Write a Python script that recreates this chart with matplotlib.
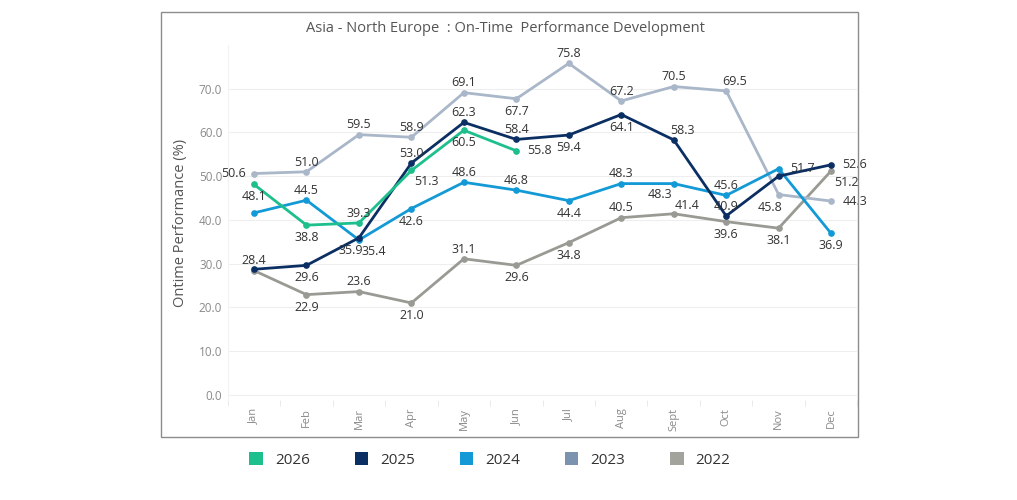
import matplotlib
matplotlib.use("Agg")
import matplotlib.pyplot as plt
from matplotlib.patches import Rectangle, Patch

# ── Data ────────────────────────────────────────────────────
MONTHS = ["Jan", "Feb", "Mar", "Apr", "May", "Jun",
          "Jul", "Aug", "Sept", "Oct", "Nov", "Dec"]
YEARS = ["2026", "2025", "2024", "2023", "2022"]

OTP_2026 = [48.1, 38.8, 39.3, 51.3, 60.5, 55.8]
OTP_2025 = [28.7, 29.6, 35.9, 53.0, 62.3, 58.4, 59.4, 64.1, 58.3, 40.9, 50.0, 52.6]
OTP_2024 = [41.6, 44.5, 35.4, 42.6, 48.6, 46.8, 44.4, 48.3, 48.3, 45.6, 51.7, 36.9]
OTP_2023 = [50.6, 51.0, 59.5, 58.9, 69.1, 67.7, 75.8, 67.2, 70.5, 69.5, 45.8, 44.3]
OTP_2022 = [28.4, 22.9, 23.6, 21.0, 31.1, 29.6, 34.8, 40.5, 41.4, 39.6, 38.1, 51.2]

# ── Style ───────────────────────────────────────────────────
plt.rcParams["font.family"] = ["Open Sans", "DejaVu Sans"]
COLORS = {"2026": "#1dbf8c", "2025": "#0b2f63", "2024": "#139ad6",
          "2023": "#a9b7c9", "2022": "#9a9a94"}
LEGEND_COLORS = {"2026": "#1dbf8c", "2025": "#0b2f63", "2024": "#139ad6",
                 "2023": "#7c93b0", "2022": "#a3a39e"}

# label placement: a=above, b=below, l=left, r=right, None=hidden
PLACE = {
    "2023": ["l", "a", "a", "a", "a", "b", "a", "a", "a", "ar", "bl", "r"],
    "2025": [None, "b", "bl", "a", "a", "a", "b", "b", "ar", "a", None, "r"],
    "2024": [None, "a", "br", "b", "a", "a", "b", "a", "bll", "a", "r", "b"],
    "2026": ["b", "b", "a", "br", "b", "r"],
    "2022": ["a", "b", "a", "b", "a", "b", "b", "a", "arr", "b", "b", "br"],
}
OFFSETS = {"a": (0, 7), "b": (0, -9), "l": (-15, 0), "r": (17, 0),
           "ar": (6, 7), "bl": (-6, -9), "br": (11, -8),
           "arr": (10, 6), "bll": (-10, -8)}

series = {"2026": OTP_2026, "2025": OTP_2025, "2024": OTP_2024,
          "2023": OTP_2023, "2022": OTP_2022}

fig = plt.figure(figsize=(10.17, 5.0), dpi=100)
ax = fig.add_axes([0.224, 0.20, 0.619, 0.71])

for year in ["2022", "2023", "2024", "2025", "2026"]:
    vals = series[year]
    x = list(range(len(vals)))
    ax.plot(x, vals, "o-", color=COLORS[year], linewidth=2.0, markersize=3.8,
            zorder=3)
    for xi, v, p in zip(x, vals, PLACE[year]):
        if p is None:
            continue
        dx, dy = OFFSETS[p]
        ax.annotate(f"{v:.1f}", (xi, v), xytext=(dx, dy), textcoords="offset points",
                    ha="center", va="center", fontsize=9, color="#333333", zorder=5)

ax.set_xlim(-0.48, 11.5)
ax.set_ylim(-1.2, 80)
ax.set_yticks([0, 10, 20, 30, 40, 50, 60, 70])
ax.set_yticklabels([f"{t:.1f}" for t in [0, 10, 20, 30, 40, 50, 60, 70]],
                   fontsize=8.5, color="#8a8a8a")
ax.set_xticks(range(12))
ax.set_xticklabels(MONTHS, rotation=90, fontsize=8, color="#8a8a8a")
ax.set_xticks([i + 0.5 for i in range(-1, 12)], minor=True)
ax.tick_params(axis="x", which="major", length=0, pad=6)
ax.tick_params(axis="x", which="minor", length=4, color="#e6e6e6")
ax.tick_params(axis="y", length=0, pad=4)
ax.grid(axis="y", color="#eeeeee", linewidth=0.8)
ax.set_axisbelow(True)
for s in ["top", "right", "bottom"]:
    ax.spines[s].set_visible(False)
ax.spines["left"].set_color("#f2f2f2")
ax.set_ylabel("Ontime Performance (%)", fontsize=10.5, color="#555555", labelpad=8)

# outer frame and title
fig.add_artist(Rectangle((161 / 1017, 1 - 437 / 500), 697 / 1017, 425 / 500,
                         transform=fig.transFigure, fill=False,
                         edgecolor="#8c8c8c", linewidth=1.0))
fig.text(505 / 1017, 1 - 28 / 500,
         "Asia - North Europe  : On-Time  Performance Development",
         ha="center", va="center", fontsize=10.5, color="#555555")

handles = [Patch(facecolor=LEGEND_COLORS[y], edgecolor="none") for y in YEARS]
fig.legend(handles, YEARS, loc="center", bbox_to_anchor=(490 / 1017, 1 - 460 / 500),
           ncol=5, frameon=False, fontsize=11, handlelength=0.9, handleheight=0.9,
           handletextpad=0.8, columnspacing=2.9, labelcolor="#333333")

plt.savefig("out.png", dpi=100)
